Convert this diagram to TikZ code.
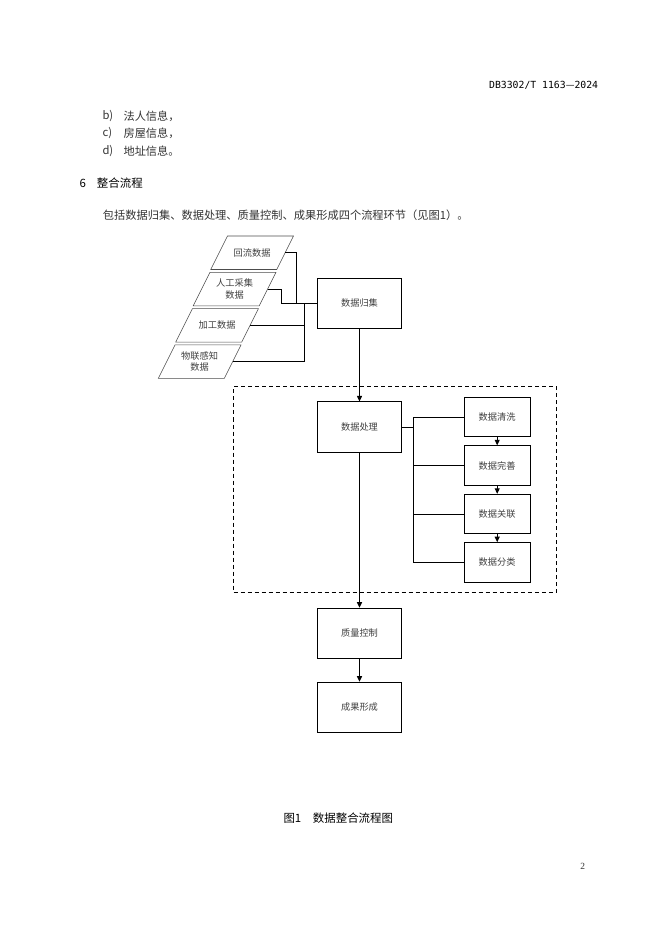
\documentclass[tikz,border=0pt]{standalone}
\usepackage{fontspec}
\setmainfont{Noto Sans CJK SC}
\newfontfamily\hdrfont{DejaVu Sans Mono}
\newfontfamily\numfont{Liberation Serif}
\usetikzlibrary{arrows.meta,calc}
\begin{document}
\begin{tikzpicture}[x=0.8992pt,y=-0.8992pt,
  box/.style={draw,line width=0.9pt,minimum width=76pt,minimum height=45pt,inner sep=0pt,
    font=\fontsize{8.3}{10}\selectfont,text=black!75},
  sbox/.style={box,minimum width=59.1pt,minimum height=35.4pt},
  conn/.style={line width=0.9pt},
  arr/.style={conn,-{Triangle[length=5pt,width=4.5pt]}},
  para/.style={draw=black!70,line width=0.5pt},
  ptext/.style={inner sep=0pt,align=center,font=\fontsize{8.3}{10.5}\selectfont,text=black!75},
  body/.style={anchor=west,inner sep=0pt,font=\fontsize{10.1}{12}\selectfont,text=black!80},
  head/.style={anchor=west,inner sep=0pt,font=\fontsize{10.3}{12}\selectfont,text=black},
  grpbox/.style={draw,dashed,dash pattern=on 3.6pt off 2.7pt,line width=0.8pt,minimum width=290.6pt,minimum height=184.9pt,inner sep=0pt}
]
\useasboundingbox (0,0) rectangle (662,936);

% header and body text
\node[anchor=east,inner sep=0pt,font=\hdrfont\fontsize{8.8}{10}\selectfont] (hdr) at (598.3,85.3) {DB3302/T 1163{\rmfamily —}2024};
\node[body] (lb) at (102.3,116) {b)};
\node[body] (tb) at (123.3,116) {法人信息，};
\node[body] (lc) at (102.3,133.3) {c)};
\node[body] (tc) at (123.3,133.3) {房屋信息，};
\node[body] (ld) at (102.3,150.7) {d)};
\node[body] (td) at (123.3,150.7) {地址信息。};
\node[head] (hn) at (79.3,183.3) {6};
\node[head] (ht) at (96.7,183.3) {整合流程};
\node[body] (par) at (102.7,215) {包括数据归集、数据处理、质量控制、成果形成四个流程环节（见图1）。};

% input parallelograms
\draw[para] (227.5,236) -- (293.5,236) -- (276.75,269.5) -- (210.75,269.5) -- cycle;
\draw[para] (210,272.3) -- (276,272.3) -- (259.25,305.8) -- (193.25,305.8) -- cycle;
\draw[para] (192.5,308.6) -- (258.5,308.6) -- (241.75,342.1) -- (175.75,342.1) -- cycle;
\draw[para] (175,344.9) -- (241,344.9) -- (224.25,378.4) -- (158.25,378.4) -- cycle;
\node[ptext] (p1) at (252.1,252.75) {回流数据};
\node[ptext] (p2) at (234.6,289.05) {人工采集\\数据};
\node[ptext] (p3) at (217.1,325.35) {加工数据};
\node[ptext] (p4) at (199.6,361.65) {物联感知\\数据};
\coordinate (p1e) at (285.1,252.75);
\coordinate (p2e) at (267.6,289.05);
\coordinate (p3e) at (250.1,325.35);
\coordinate (p4e) at (232.6,361.65);

% main boxes
\node[box] (g1) at (359.5,303.2) {数据归集};
\node[box] (g2) at (359.5,427) {数据处理};
\node[box] (g3) at (359.5,633.3) {质量控制};
\node[box] (g4) at (359.5,707.3) {成果形成};

% dashed group
\node[grpbox] (grp) at (395.1,489.5) {};

% sub boxes
\node[sbox] (c1) at (497.2,417) {数据清洗};
\node[sbox] (c2) at (497.2,465.5) {数据完善};
\node[sbox] (c3) at (497.2,514) {数据关联};
\node[sbox] (c4) at (497.2,562.4) {数据分类};

% input connectors
\coordinate (j1) at (296.7,303.2);
\coordinate (j2) at (281,303.2);
\coordinate (j3) at (304.3,303.2);
\draw[conn] (p1e) -| (j1);
\draw[conn] (p2e) -| (j2) -- (g1.west);
\draw[conn] (j3) |- (p3e);
\draw[conn] (j3) |- (p4e);

% main flow
\draw[arr] (g1.south) -- (g2.north);
\draw[arr] (g2.south) -- (g3.north);
\draw[arr] (g3.south) -- (g4.north);

% processing tree
\coordinate (tk) at (413.3,427);
\draw[conn] (g2.east) -- (tk);
\draw[conn] (c1.west) -| (tk);
\draw[conn] (c4.west) -| (tk);
\draw[conn] (c2.west) -- (c2.west -| tk);
\draw[conn] (c3.west) -- (c3.west -| tk);
\draw[arr] (c1.south) -- (c2.north);
\draw[arr] (c2.south) -- (c3.north);
\draw[arr] (c3.south) -- (c4.north);

% caption and page number
\node[head] (cap1) at (283.3,818.3) {图1};
\node[head] (cap2) at (312.7,818.3) {数据整合流程图};
\node[inner sep=0pt,font=\numfont\fontsize{8.5}{10}\selectfont,text=black!80] (pg) at (582.7,866) {2};
\end{tikzpicture}
\end{document}
